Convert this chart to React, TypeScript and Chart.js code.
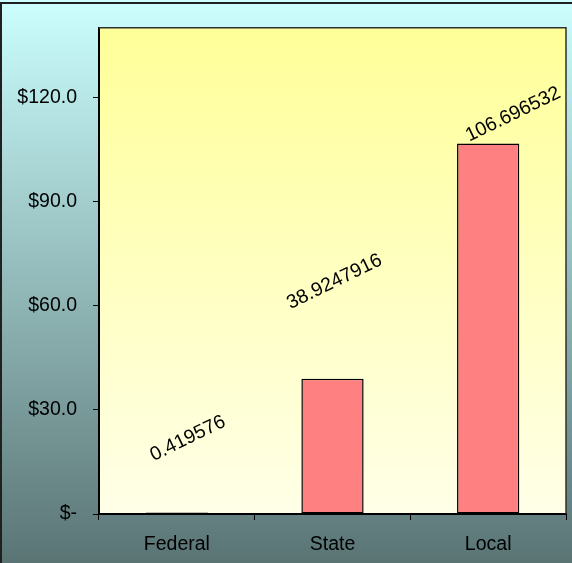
import React, { useEffect, useRef } from 'react';
import { Chart, registerables } from 'chart.js';

Chart.register(...registerables);

const categories = ['Federal', 'State', 'Local'];
const values = [0.419576, 38.9247916, 106.696532];
const valueLabels = ['0.419576', '38.9247916', '106.696532'];
const yTickValues = [0, 30, 60, 90, 120];
const yMax = 140;

// label placement (pixel offsets from each bar's top centre)
const labelDx = [11, 2, 25];
const labelDy = [-74, -97, -29];

const FONT = '"Liberation Sans", Arial, sans-serif';

const bgPlugin = {
  id: 'bgPlugin',
  beforeDraw(chart: any) {
    const { ctx, width, height, chartArea } = chart;
    ctx.save();
    const g = ctx.createLinearGradient(0, 0, 0, height);
    g.addColorStop(0, '#CCFFFF');
    g.addColorStop(1, '#5A7474');
    ctx.fillStyle = g;
    ctx.fillRect(0, 0, width, height);
    if (chartArea) {
      const pg = ctx.createLinearGradient(0, chartArea.top, 0, chartArea.bottom);
      pg.addColorStop(0, '#FFFF99');
      pg.addColorStop(1, '#FFFFE8');
      ctx.fillStyle = pg;
      ctx.fillRect(chartArea.left, chartArea.top, chartArea.right - chartArea.left, chartArea.bottom - chartArea.top);
    }
    // outer border (top & left visible)
    ctx.strokeStyle = '#202020';
    ctx.lineWidth = 2;
    ctx.beginPath();
    ctx.moveTo(1, height + 2);
    ctx.lineTo(1, 3);
    ctx.lineTo(width + 2, 3);
    ctx.stroke();
    ctx.restore();
  },
  beforeDatasetsDraw(chart: any) {
    const { ctx, chartArea } = chart;
    ctx.save();
    ctx.strokeStyle = '#303030';
    ctx.lineWidth = 1.5;
    ctx.beginPath();
    ctx.moveTo(chartArea.left, chartArea.top);
    ctx.lineTo(chartArea.right, chartArea.top);
    ctx.lineTo(chartArea.right, chartArea.bottom);
    ctx.stroke();
    ctx.restore();
  },
  afterDatasetsDraw(chart: any) {
    const { ctx } = chart;
    const meta = chart.getDatasetMeta(0);
    ctx.save();
    ctx.fillStyle = '#000000';
    ctx.font = `19.5px ${FONT}`;
    ctx.textAlign = 'center';
    ctx.textBaseline = 'middle';
    meta.data.forEach((bar: any, i: number) => {
      ctx.save();
      ctx.translate(bar.x + labelDx[i], bar.y + labelDy[i]);
      ctx.rotate((-26 * Math.PI) / 180);
      ctx.fillText(valueLabels[i], 0, 0);
      ctx.restore();
    });
    ctx.restore();
  },
};

export default function App() {
  const ref = useRef<HTMLCanvasElement | null>(null);

  useEffect(() => {
    if (!ref.current) return;
    const chart = new Chart(ref.current, {
      type: 'bar',
      data: {
        labels: categories,
        datasets: [
          {
            data: values,
            backgroundColor: '#FF8080',
            borderColor: '#000000',
            borderWidth: 1.5,
            borderSkipped: false,
            barPercentage: 0.4,
            categoryPercentage: 1,
          },
        ],
      },
      options: {
        responsive: false,
        animation: false,
        devicePixelRatio: 1,
        layout: { padding: { top: 26, right: 6, left: 0, bottom: 0 } },
        plugins: {
          legend: { display: false },
          tooltip: { enabled: false },
          title: { display: false },
        },
        scales: {
          x: {
            grid: {
              offset: true,
              drawOnChartArea: false,
              drawTicks: true,
              tickLength: 6,
              color: '#000000',
              lineWidth: 1,
            },
            border: { display: true, color: '#000000', width: 2 },
            ticks: {
              color: '#000000',
              font: { family: FONT, size: 19.5 },
              padding: 13,
            },
            afterFit(scale: any) {
              scale.height = 49;
            },
          },
          y: {
            min: 0,
            max: yMax,
            grid: {
              drawOnChartArea: false,
              drawTicks: true,
              tickLength: 6,
              color: '#000000',
              lineWidth: 1,
            },
            border: { display: true, color: '#000000', width: 2 },
            ticks: {
              color: '#000000',
              font: { family: FONT, size: 19.5 },
              padding: 16,
              stepSize: 30,
              callback: (v: any) => (Number(v) === 0 ? '$-' : '$' + Number(v).toFixed(1)),
            },
            afterBuildTicks(scale: any) {
              scale.ticks = yTickValues.map((v) => ({ value: v }));
            },
            afterFit(scale: any) {
              scale.width = 99;
            },
          },
        },
      },
      plugins: [bgPlugin],
    });
    return () => chart.destroy();
  }, []);

  return (
    <div style={{ position: 'absolute', left: 0, top: 0, width: 572, height: 563 }}>
      <canvas ref={ref} width={572} height={563} style={{ display: 'block', width: 572, height: 563 }} />
    </div>
  );
}
